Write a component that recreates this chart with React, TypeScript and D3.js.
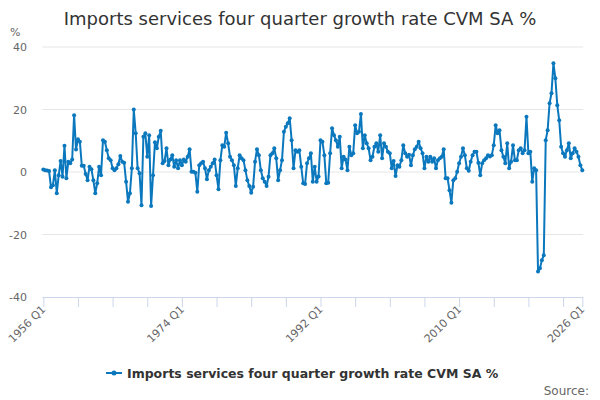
import React, { useEffect, useRef } from 'react';
import * as d3 from 'd3';

const title = 'Imports services four quarter growth rate CVM SA %';
const seriesName = 'Imports services four quarter growth rate CVM SA %';
const startYear = 1956;
const yTicks = [-40, -20, 0, 20, 40];
const labelledTicks = ['1956 Q1', '1974 Q1', '1992 Q1', '2010 Q1', '2026 Q1'];

// four quarter growth, 1956 Q1 .. 2026 Q1
const values = [
  0.8, 0.6, 0.5, 0.3, -4.9, -4.2, 0.6, -6.8, -1, 3.5, -1.5, 8.4, -2, 3.3, 2.8, 4, 18.2, 7.2, 10.5, 9.7,
  2, 2, -0.6, -2.6, 1.7, 0.9, -2.6, -6.8, -3.6, 1.7, -1, 10.2, 9.7, 7, 4.4, 3.8, 1.2, 0.6, 1.2, 2.5,
  5.1, 3.3, 3, -3.1, -9.5, -6.8, 1.2, 20, 12.4, 1.2, -0.4, -10.6, 11.3, 12.4, 4.9, 11.8, -10.9, -1, 9.5, 7.6,
  11.3, 13.2, 2.8, 3.5, 7.6, 2.2, 4, 5.4, 1.7, 3.8, 1.2, 3.8, 2.2, 4, 3.3, 4.9, 7.3, 0.1, 0.1, -0.2,
  -6.3, 2.2, 2.8, 3.3, 1.2, -2.3, 0.6, 1.7, 2.8, 4, -1, -5.5, 3.8, 8.6, 8.1, 12.6, 9.2, 4.9, 3.8, 2.2,
  -4.5, 1.2, 5.4, 4.4, 3.8, 0.6, -2.6, -4.5, -6.6, -4.7, 3.3, 7.3, 5.4, 0.6, -2, -3.1, -4.5, -1.5, 5.4, 6,
  7.6, 4.4, -2.6, 0.6, 3.8, 12.9, 14.5, 15.6, 17.2, 10.2, 1.2, 7, 6.5, 7, 1.7, -3.6, -3.8, 2.8, 4.4, 6,
  -3.1, 1.7, -3.1, -1.4, 10.2, 9.7, 5.4, -3.6, -3.4, 6, 14, 11.8, 10.2, 8.1, 11.3, 1.2, 4.9, 4, 0.6, 8.1,
  5.4, 6, 15, 12.4, 12.9, 18.6, 7.6, 11.8, 9.2, 7.6, 3.8, 4.9, 8.1, 9.2, 6.5, 11.8, 4.4, 9.2, 8.1, 6.5,
  6, 1.2, 3.5, -1.3, 2.2, 1.7, 3.8, 8.6, 6, 4.9, 5.5, 2.2, 5.4, 7.3, 8.1, 9.7, 7.6, 6, 1.2, 4.9,
  3.3, 4.9, 3.3, 4.4, 1.2, 3.8, 4.4, 4.9, 7.3, -2, -2, -5.8, -9.8, -2.6, -2, 0.1, 2.8, 4.9, 7.6, 5.4,
  1.2, 0.4, 3.3, 5.4, 6.5, 6.5, 3, -1, 2.8, 3.8, 4.4, 5.4, 5, 5.4, 8.6, 15, 12.4, 13.4, 7, 4.9,
  2.8, 9.2, 1.2, 3.3, 8.6, 3.8, 3.8, 7, 7.6, 6, 7, 17.7, 6, 6.5, -3.1, 1.2, 0.6, -31.8, -30.8, -28.2,
  -26.6, 10.2, 13.4, 22, 25.2, 34.8, 30, 21.4, 16.6, 8.1, 6, 4.9, 7, 9.2, 4.4, 6, 7.6, 6.5, 4.9, 2.2,
  0.6,
];

const quarters = values.map((_, i) => `${startYear + Math.floor(i / 4)} Q${(i % 4) + 1}`);
const tickQuarters = quarters.filter((_, i) => i % 18 === 0 || i === quarters.length - 1);

const COLOR = '#0b78be';
const FONT = '"DejaVu Sans", Verdana, sans-serif';

export default function App() {
  const svgRef = useRef<SVGSVGElement>(null);
  const width = 600;
  const height = 400;

  useEffect(() => {
    const svg = d3.select(svgRef.current);
    svg.selectAll('*').remove();

    const plot = { left: 43.3, right: 582.3, top: 47, bottom: 297 };

    const x = d3.scalePoint<string>()
      .domain(quarters)
      .range([plot.left, plot.right]);

    const y = d3.scaleLinear()
      .domain([-40, 40])
      .range([plot.bottom, plot.top]);

    // Title
    svg.append('text')
      .attr('x', width / 2)
      .attr('y', 25)
      .attr('text-anchor', 'middle')
      .style('font-family', FONT)
      .style('font-size', '18px')
      .style('fill', '#333333')
      .text(title);

    // Grid lines
    svg.append('g')
      .selectAll('line')
      .data(yTicks.filter(t => t !== -40))
      .join('line')
      .attr('x1', plot.left - 1)
      .attr('x2', plot.right + 1)
      .attr('y1', d => y(d))
      .attr('y2', d => y(d))
      .style('stroke', '#e6e6e6')
      .style('stroke-width', 1);

    // Y labels
    svg.append('g')
      .selectAll('text')
      .data(yTicks)
      .join('text')
      .attr('x', 27)
      .attr('y', d => y(d) + 4)
      .attr('text-anchor', 'end')
      .style('font-family', FONT)
      .style('font-size', '11px')
      .style('fill', '#666666')
      .text(d => d);

    svg.append('text')
      .attr('x', 10)
      .attr('y', 36)
      .style('font-family', FONT)
      .style('font-size', '11px')
      .style('fill', '#666666')
      .text('%');

    // X axis
    const xAxis = svg.append('g')
      .attr('transform', `translate(0,${plot.bottom})`)
      .call(d3.axisBottom(x).tickValues(tickQuarters).tickSize(10).tickFormat(() => ''));
    xAxis.select('.domain')
      .attr('d', `M${plot.left - 1},0.5H${plot.right + 1}`)
      .style('stroke', '#ccd6eb');
    xAxis.selectAll('.tick line').style('stroke', '#ccd6eb');

    svg.append('g')
      .selectAll('text')
      .data(labelledTicks)
      .join('text')
      .attr('transform', d => `translate(${(x(d) ?? 0) + 3},${plot.bottom + 13}) rotate(-45)`)
      .attr('text-anchor', 'end')
      .style('font-family', FONT)
      .style('font-size', '11px')
      .style('fill', '#666666')
      .text(d => d);

    // Series
    const line = d3.line<number>()
      .x((_, i) => x(quarters[i]) ?? 0)
      .y(d => y(d));

    svg.append('path')
      .datum(values)
      .attr('fill', 'none')
      .attr('stroke', COLOR)
      .attr('stroke-width', 2)
      .attr('stroke-linejoin', 'round')
      .attr('d', line);

    svg.append('g')
      .selectAll('circle')
      .data(values)
      .join('circle')
      .attr('cx', (_, i) => x(quarters[i]) ?? 0)
      .attr('cy', d => y(d))
      .attr('r', 2)
      .style('fill', COLOR);

    // Legend
    const legend = svg.append('g').attr('transform', 'translate(0,373)');
    legend.append('line')
      .attr('x1', 106).attr('x2', 122)
      .attr('y1', 0).attr('y2', 0)
      .style('stroke', COLOR)
      .style('stroke-width', 2);
    legend.append('circle')
      .attr('cx', 114).attr('cy', 0).attr('r', 2.5)
      .style('fill', COLOR);
    legend.append('text')
      .attr('x', 127)
      .attr('y', 5)
      .style('font-family', FONT)
      .style('font-size', '12.5px')
      .style('font-weight', 'bold')
      .style('fill', '#333333')
      .text(seriesName);

    svg.append('text')
      .attr('x', 589)
      .attr('y', 395)
      .attr('text-anchor', 'end')
      .style('font-family', FONT)
      .style('font-size', '12px')
      .style('fill', '#666666')
      .text('Source:');
  }, []);

  return (
    <svg
      ref={svgRef}
      width={width}
      height={height}
      style={{ position: 'absolute', left: 0, top: 0, background: '#ffffff' }}
    />
  );
}
